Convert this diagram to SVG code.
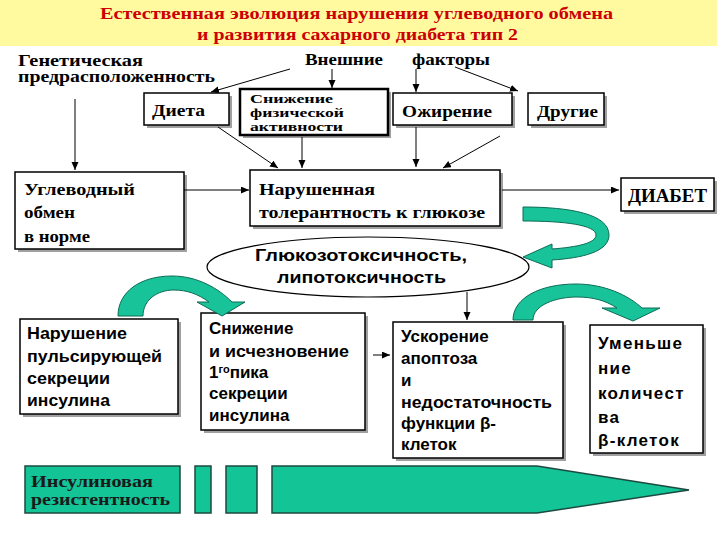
<svg xmlns="http://www.w3.org/2000/svg" width="720" height="540" viewBox="0 0 720 540">
<defs>
<marker id="ah" markerUnits="userSpaceOnUse" markerWidth="9" markerHeight="8" refX="8" refY="3.5" orient="auto">
<path d="M0,0 L8,3.5 L0,7 z" fill="#000"/>
</marker>
<style>
.box{fill:#fff;stroke:#000;stroke-width:1.5}
.shadow{fill:#a0a0a0}
.serif{font-family:"Liberation Serif","Times New Roman",serif;font-weight:bold;font-size:16px;fill:#000}
.sans{font-family:"Liberation Sans",Arial,sans-serif;font-weight:bold;font-size:17px;fill:#000}
.title{fill:#cc0000;font-size:16px}
.conn line{stroke:#000;stroke-width:1;marker-end:url(#ah)}
.green{fill:#19c39a;stroke:#0d6b55;stroke-width:1}
.bar{fill:#12c496;stroke:#1d4a40;stroke-width:1.5}
.spaced{letter-spacing:1.3px}
</style>
</defs>
<rect width="720" height="540" fill="#fff"/>
<g id="title">
<rect x="0" y="0" width="717" height="46" fill="#fff9a0"/>
<text class="serif title" x="100" y="19" textLength="513" lengthAdjust="spacingAndGlyphs">Естественная эволюция нарушения углеводного обмена</text>
<text class="serif title" x="197" y="40" textLength="321" lengthAdjust="spacingAndGlyphs">и развития сахарного диабета тип 2</text>
</g>
<g id="genetic">
<text class="serif" x="18" y="66" textLength="125" lengthAdjust="spacingAndGlyphs">Генетическая</text>
<text class="serif" x="18" y="82" textLength="197" lengthAdjust="spacingAndGlyphs">предрасположенность</text>
</g>
<g id="external">
<text class="serif" x="305" y="65" textLength="78" lengthAdjust="spacingAndGlyphs">Внешние</text>
<text class="serif" x="412" y="65" textLength="78" lengthAdjust="spacingAndGlyphs">факторы</text>
</g>
<g id="diet">
<rect class="shadow" x="147" y="96" width="85" height="32"/>
<rect class="box" x="144" y="93" width="85" height="32"/>
<text class="serif" x="152" y="116" textLength="53" lengthAdjust="spacingAndGlyphs">Диета</text>
</g>
<g id="activity">
<rect class="shadow" x="243" y="92" width="148" height="46"/>
<rect class="box" x="240" y="89" width="148" height="46" style="stroke-width:2.5"/>
<text class="serif" x="250" y="103" textLength="83" lengthAdjust="spacingAndGlyphs" style="font-size:13px">Снижение</text>
<text class="serif" x="250" y="117" textLength="94" lengthAdjust="spacingAndGlyphs" style="font-size:13px">физической</text>
<text class="serif" x="250" y="131" textLength="93" lengthAdjust="spacingAndGlyphs" style="font-size:13px">активности</text>
</g>
<g id="obesity">
<rect class="shadow" x="396" y="96" width="119" height="32"/>
<rect class="box" x="393" y="93" width="119" height="32"/>
<text class="serif" x="402" y="117" textLength="90" lengthAdjust="spacingAndGlyphs">Ожирение</text>
</g>
<g id="other">
<rect class="shadow" x="531" y="96" width="76" height="32"/>
<rect class="box" x="528" y="93" width="76" height="32"/>
<text class="serif" x="537" y="117" textLength="61" lengthAdjust="spacingAndGlyphs">Другие</text>
</g>
<g id="normal">
<rect class="shadow" x="18" y="175" width="169" height="77"/>
<rect class="box" x="15" y="172" width="169" height="77"/>
<text class="serif" x="24" y="195" textLength="111" lengthAdjust="spacingAndGlyphs">Углеводный</text>
<text class="serif" x="24" y="218" textLength="51" lengthAdjust="spacingAndGlyphs">обмен</text>
<text class="serif" x="24" y="242" textLength="66" lengthAdjust="spacingAndGlyphs">в норме</text>
</g>
<g id="igt">
<rect class="shadow" x="253" y="173" width="250" height="56"/>
<rect class="box" x="250" y="170" width="250" height="56"/>
<text class="serif" x="259" y="195" textLength="116" lengthAdjust="spacingAndGlyphs">Нарушенная</text>
<text class="serif" x="259" y="218" textLength="226" lengthAdjust="spacingAndGlyphs">толерантность к глюкозе</text>
</g>
<g id="diabetes">
<rect class="shadow" x="624" y="181" width="93" height="33"/>
<rect class="box" x="621" y="178" width="93" height="33"/>
<text class="serif" x="628" y="202" textLength="79" lengthAdjust="spacingAndGlyphs" style="font-size:18px">ДИАБЕТ</text>
</g>
<g id="toxicity">
<ellipse cx="368" cy="267" rx="161" ry="30" fill="#fff" stroke="#000" stroke-width="1.2"/>
<text class="sans" x="255" y="261" textLength="212" lengthAdjust="spacingAndGlyphs">Глюкозотоксичность,</text>
<text class="sans" x="277" y="283" textLength="169" lengthAdjust="spacingAndGlyphs">липотоксичность</text>
</g>
<g id="pulsatile">
<rect class="shadow" x="23" y="322" width="158" height="95"/>
<rect class="box" x="20" y="319" width="158" height="95"/>
<text class="sans" x="27" y="339" textLength="100" lengthAdjust="spacingAndGlyphs">Нарушение</text>
<text class="sans" x="27" y="362" textLength="135" lengthAdjust="spacingAndGlyphs">пульсирующей</text>
<text class="sans" x="27" y="384" textLength="83" lengthAdjust="spacingAndGlyphs">секреции</text>
<text class="sans" x="27" y="406" textLength="83" lengthAdjust="spacingAndGlyphs">инсулина</text>
</g>
<g id="firstphase">
<rect class="shadow" x="204" y="316" width="164" height="117"/>
<rect class="box" x="201" y="313" width="164" height="117"/>
<text class="sans" x="209" y="334">Снижение</text>
<text class="sans" x="209" y="357" textLength="140" lengthAdjust="spacingAndGlyphs">и исчезновение</text>
<text class="sans" x="209" y="378">1<tspan font-size="11" dy="-5">го</tspan><tspan dy="5">пика</tspan></text>
<text class="sans" x="209" y="399">секреции</text>
<text class="sans" x="209" y="421">инсулина</text>
</g>
<g id="apoptosis">
<rect class="shadow" x="396" y="325" width="170" height="136"/>
<rect class="box" x="393" y="322" width="170" height="136"/>
<text class="sans" x="401" y="342">Ускорение</text>
<text class="sans" x="401" y="364">апоптоза</text>
<text class="sans" x="401" y="386">и</text>
<text class="sans" x="401" y="408" textLength="151" lengthAdjust="spacingAndGlyphs">недостаточность</text>
<text class="sans" x="401" y="429">функции  β-</text>
<text class="sans" x="401" y="450">клеток</text>
</g>
<g id="betamass">
<rect class="shadow" x="593" y="328" width="113" height="128"/>
<rect class="box" x="590" y="325" width="113" height="128"/>
<text class="sans spaced" x="598" y="349">Уменьше</text>
<text class="sans spaced" x="598" y="374">ние</text>
<text class="sans spaced" x="598" y="399">количест</text>
<text class="sans spaced" x="598" y="423">ва</text>
<text class="sans spaced" x="598" y="446">β-клеток</text>
</g>
<g id="resistance">
<rect class="bar" x="25" y="466" width="155" height="47"/>
<text class="serif" x="31" y="487" textLength="122" lengthAdjust="spacingAndGlyphs" style="fill:#1a1a1a">Инсулиновая</text>
<text class="serif" x="31" y="505" textLength="139" lengthAdjust="spacingAndGlyphs" style="fill:#1a1a1a">резистентность</text>
<rect class="bar" x="195" y="466" width="16" height="47"/>
<rect class="bar" x="226" y="466" width="31" height="47"/>
<polygon class="bar" points="272,466 537,466 689,490 537,513 272,513"/>
</g>
<g id="curved-arrows">
<path class="green" d="M523,207 C570,207 609,214 609,235 C609,252 582,258 552,260 L552,268 L523,257 L552,244 L552,249 C578,247 596,243 596,235 C596,225 565,221 523,221 Z"/>
<path class="green" d="M118,316 C118,292 140,276 172,276 C197,276 218,288 232,302 L245,302 L222,316 L197,302 L209,302 C198,294 187,290 174,290 C157,290 143,300 143,316 Z"/>
<path class="green" d="M513,320 C513,298 540,284 576,284 C604,284 628,295 642,308 L660,308 L633,321 L602,308 L617,308 C605,300 592,297 577,297 C556,297 533,305 533,320 Z"/>
</g>
<g id="connectors" class="conn">
<line x1="290" y1="69" x2="211" y2="92"/>
<line x1="332" y1="69" x2="332" y2="88"/>
<line x1="416" y1="69" x2="416" y2="92"/>
<line x1="455" y1="67" x2="518" y2="91"/>
<line x1="75" y1="99" x2="75" y2="170"/>
<line x1="218" y1="127" x2="278" y2="168"/>
<line x1="302" y1="137" x2="302" y2="168"/>
<line x1="416" y1="127" x2="416" y2="167"/>
<line x1="500" y1="136" x2="443" y2="168"/>
<line x1="184" y1="190" x2="249" y2="190"/>
<line x1="502" y1="190" x2="619" y2="190"/>
<line x1="467" y1="292" x2="467" y2="320"/>
<line x1="373" y1="355" x2="390" y2="355"/>
</g>
</svg>
